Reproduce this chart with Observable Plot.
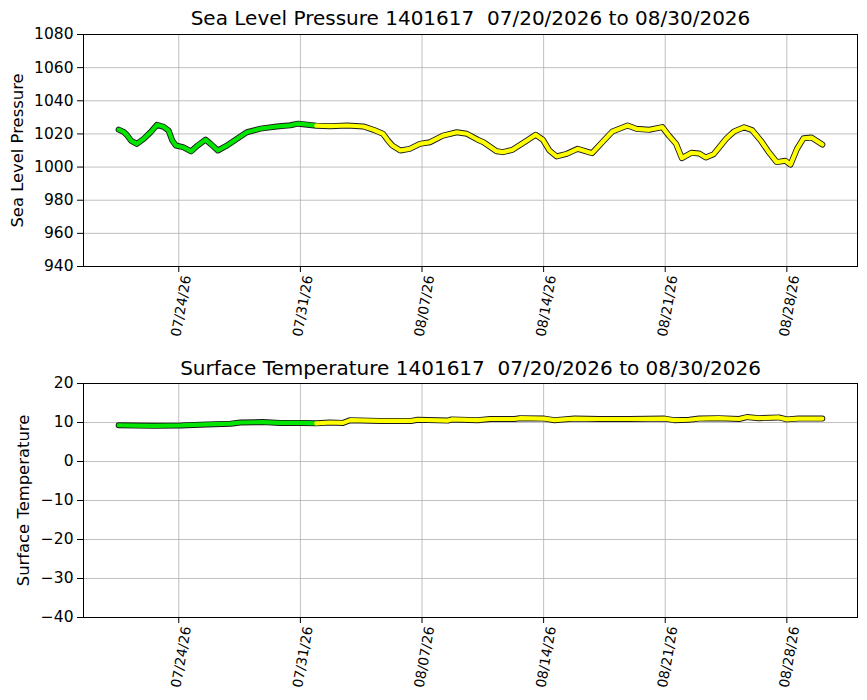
<!DOCTYPE html>
<html><head><meta charset="utf-8">
<script src="https://cdn.jsdelivr.net/npm/d3@7"></script>
<script src="https://cdn.jsdelivr.net/npm/@observablehq/plot@0.6"></script>
<style>
body{margin:0;background:#fff;}
#chart{width:867px;height:700px;}
#chart svg{display:block;overflow:visible;}
svg text{white-space:pre;}
</style></head><body><div id="chart"></div><script>
// ---- data ----
const pressureTimes = ["2026-07-20T13:00","2026-07-20T20:00","2026-07-21T00:00","2026-07-21T06:00","2026-07-21T14:00","2026-07-22T00:00","2026-07-22T09:00","2026-07-22T18:00","2026-07-23T03:00","2026-07-23T10:00","2026-07-23T15:00","2026-07-23T20:00","2026-07-24T06:00","2026-07-24T17:00","2026-07-25T02:00","2026-07-25T13:00","2026-07-25T20:00","2026-07-26T06:00","2026-07-26T17:00","2026-07-27T08:00","2026-07-27T22:00","2026-07-28T17:00","2026-07-29T15:00","2026-07-30T10:00","2026-07-30T21:00","2026-07-31T22:00","2026-08-01T17:00","2026-08-02T17:00","2026-08-03T15:00","2026-08-04T05:00","2026-08-04T18:00","2026-08-05T01:00","2026-08-05T07:00","2026-08-05T18:00","2026-08-06T07:00","2026-08-06T21:00","2026-08-07T11:00","2026-08-08T05:00","2026-08-09T00:00","2026-08-09T14:00","2026-08-10T05:00","2026-08-10T13:00","2026-08-11T07:00","2026-08-11T16:00","2026-08-12T05:00","2026-08-13T01:00","2026-08-13T13:00","2026-08-13T23:00","2026-08-14T08:00","2026-08-14T18:00","2026-08-15T08:00","2026-08-15T23:00","2026-08-16T19:00","2026-08-17T09:00","2026-08-17T23:00","2026-08-18T20:00","2026-08-19T08:00","2026-08-20T02:00","2026-08-20T20:00","2026-08-21T05:00","2026-08-21T15:00","2026-08-21T23:00","2026-08-22T12:00","2026-08-22T23:00","2026-08-23T08:00","2026-08-23T19:00","2026-08-24T12:00","2026-08-24T23:00","2026-08-25T13:00","2026-08-26T00:00","2026-08-26T12:00","2026-08-26T23:00","2026-08-27T10:00","2026-08-27T22:00","2026-08-28T05:00","2026-08-28T14:00","2026-08-28T23:00","2026-08-29T10:00","2026-08-30T01:00"];
const pressureValues = [1022.6,1021.2,1019.5,1016.0,1014.0,1017.2,1021.0,1025.5,1024.3,1022.0,1016.0,1013.0,1012.0,1009.5,1013.0,1016.6,1014.0,1010.0,1012.6,1017.0,1021.0,1023.2,1024.5,1025.2,1026.2,1025.0,1024.7,1025.1,1024.5,1022.5,1020.1,1016.0,1013.0,1010.0,1011.0,1014.0,1015.0,1019.0,1021.0,1020.1,1016.5,1015.0,1009.6,1009.0,1010.4,1016.0,1019.5,1016.5,1010.0,1006.4,1008.0,1011.0,1008.4,1015.0,1021.5,1025.1,1023.1,1022.5,1024.1,1019.0,1014.0,1005.4,1008.6,1008.2,1005.8,1007.8,1017.0,1021.5,1024.0,1022.3,1016.0,1009.0,1003.0,1003.8,1001.5,1011.0,1017.4,1017.8,1013.6];

const tempTimes = ["2026-07-20T13:00","2026-07-21T13:00","2026-07-22T14:00","2026-07-24T03:00","2026-07-25T15:00","2026-07-27T00:00","2026-07-27T13:00","2026-07-28T20:00","2026-07-29T20:00","2026-07-31T00:00","2026-07-31T22:00","2026-08-01T17:00","2026-08-02T11:00","2026-08-02T21:00","2026-08-04T14:00","2026-08-06T09:00","2026-08-06T18:00","2026-08-08T12:00","2026-08-08T17:00","2026-08-10T05:00","2026-08-10T22:00","2026-08-12T08:00","2026-08-12T15:00","2026-08-14T01:00","2026-08-14T15:00","2026-08-15T19:00","2026-08-17T05:00","2026-08-18T22:00","2026-08-20T23:00","2026-08-21T12:00","2026-08-22T09:00","2026-08-22T23:00","2026-08-24T02:00","2026-08-25T06:00","2026-08-25T17:00","2026-08-26T09:00","2026-08-27T13:00","2026-08-28T00:00","2026-08-28T16:00","2026-08-30T01:00"];
const tempValues = [9.3,9.2,9.15,9.25,9.5,9.7,10.0,10.1,9.9,9.9,9.8,10.0,9.9,10.6,10.4,10.4,10.7,10.5,10.8,10.6,10.9,10.9,11.1,11.0,10.6,11.0,10.9,10.9,11.0,10.6,10.7,11.0,11.1,10.9,11.4,11.1,11.3,10.8,11.0,11.0];

const qcCutoff = "2026-07-31T22:00"; // green before, yellow after
const xTickDates = ["2026-07-24T00:00","2026-07-31T00:00","2026-08-07T00:00","2026-08-14T00:00","2026-08-21T00:00","2026-08-28T00:00"];
const xTickLabels = ["07/24/26","07/31/26","08/07/26","08/14/26","08/21/26","08/28/26"];
const pressureTicks = [940,960,980,1000,1020,1040,1060,1080];
const tempTicks = [-40,-30,-20,-10,0,10,20];
const titles = ["Sea Level Pressure 1401617  07/20/2026 to 08/30/2026","Surface Temperature 1401617  07/20/2026 to 08/30/2026"];
const yLabels = ["Sea Level Pressure","Surface Temperature"];

// ---- drawing ----
const parse = d3.utcParse("%Y-%m-%dT%H:%M");
const FONT = "DejaVu Sans, sans-serif";
const ticks = xTickDates.map(parse);
const tickFmt = d => xTickLabels[ticks.findIndex(t => +t === +d)] ?? "";

function panel(times, values, yDomain, yTicks, title, ylabel, mt, mb, ylabelDx, titleDy) {
  const data = times.map((t, i) => ({t: parse(t), v: values[i]}));
  const cut = parse(qcCutoff);
  const green = data.filter(d => d.t <= cut);
  const yellow = data.filter(d => d.t >= cut);
  const ext = d3.extent(data, d => d.t);
  const pad = (ext[1] - ext[0]) * 0.05;
  return Plot.plot({
    width: 867, height: 350,
    marginTop: mt, marginBottom: mb, marginLeft: 83, marginRight: 10,
    style: {fontFamily: FONT, background: "#fff", color: "#000", overflow: "visible"},
    x: {type: "utc", domain: [new Date(+ext[0] - pad), new Date(+ext[1] + pad)]},
    y: {domain: yDomain},
    marks: [
      Plot.gridX(ticks, {stroke: "#b0b0b0", strokeOpacity: 1, strokeWidth: 0.8}),
      Plot.gridY(yTicks, {stroke: "#b0b0b0", strokeOpacity: 1, strokeWidth: 0.8}),
      Plot.line(data, {x: "t", y: "v", stroke: "#1a1a1a", strokeWidth: 6}),
      Plot.line(green, {x: "t", y: "v", stroke: "#00e600", strokeWidth: 4.2}),
      Plot.line(yellow, {x: "t", y: "v", stroke: "#ffff00", strokeWidth: 4.2}),
      Plot.frame({stroke: "#000", strokeWidth: 1}),
      Plot.axisY({ticks: yTicks, tickSize: 6, tickPadding: 4, fontSize: 15.5, label: null, tickFormat: d3.format("d")}),
      Plot.axisX({ticks: ticks, tickFormat: () => "", tickSize: 6, label: null}),
      Plot.axisX({ticks: ticks, tickFormat: tickFmt, tickSize: 0, tickPadding: 9, tickRotate: -80, fontSize: 13.8, label: null, dx: 8}),
      Plot.text([ylabel], {text: d => d, frameAnchor: "left", rotate: -90, dx: ylabelDx, fontSize: 16.4, fill: "#000", textAnchor: "middle", lineAnchor: "middle"}),
      Plot.text([title], {text: d => d, frameAnchor: "top", dy: titleDy, fontSize: 20, fill: "#000", lineAnchor: "middle"})
    ]
  });
}

const chart = document.getElementById("chart");
chart.append(panel(pressureTimes, pressureValues, [940, 1080], pressureTicks, titles[0], yLabels[0], 34, 84, -66, -16));
chart.append(panel(tempTimes, tempValues, [-40, 20], tempTicks, titles[1], yLabels[1], 33, 83, -60, -15));
</script></body></html>
